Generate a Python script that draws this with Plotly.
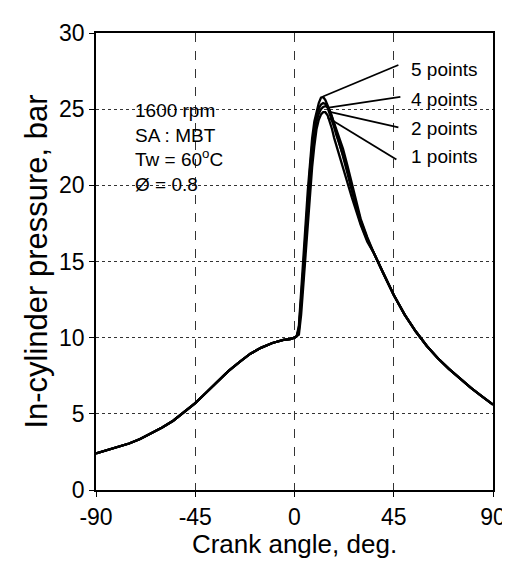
import plotly.graph_objects as go

# ---- data ----
comp_deg = [-90, -85, -80, -75, -70, -65, -60, -55, -50, -45, -40, -35, -30, -25, -20, -15, -10, -5, -2, 0]
comp_p = [2.4, 2.6, 2.8, 3.05, 3.35, 3.7, 4.1, 4.55, 5.1, 5.7, 6.4, 7.1, 7.8, 8.4, 8.95, 9.35, 9.65, 9.85, 9.9, 10.0]

comb_deg = [1, 2, 3, 4, 5, 6, 7, 8, 9, 10, 11, 12, 13, 14, 15, 16, 17, 18, 19, 20, 22, 24, 26, 28, 30, 33]
p_5pts = [10.1, 10.8, 12.8, 15.0, 17.4, 19.6, 21.5, 23.1, 24.2, 24.9, 25.4, 25.75, 25.8, 25.6, 25.3, 24.9, 24.5, 24.1, 23.6, 23.2, 22.4, 21.3, 20.1, 18.9, 17.8, 16.6]
p_4pts = [10.1, 10.6, 12.4, 14.5, 16.8, 19.0, 21.0, 22.6, 23.8, 24.6, 25.05, 25.3, 25.4, 25.35, 25.1, 24.7, 24.3, 23.8, 23.3, 22.9, 22.0, 21.0, 19.8, 18.7, 17.7, 16.5]
p_2pts = [10.1, 10.5, 12.0, 14.0, 16.2, 18.4, 20.5, 22.1, 23.3, 24.2, 24.7, 25.0, 25.15, 25.2, 25.15, 24.9, 24.5, 24.0, 23.5, 23.0, 21.9, 20.8, 19.6, 18.5, 17.5, 16.4]
p_1pts = [10.1, 10.2, 11.5, 13.5, 15.5, 17.5, 19.5, 21.2, 22.6, 23.7, 24.3, 24.65, 24.8, 24.8, 24.6, 24.2, 23.7, 23.1, 22.6, 22.1, 21.1, 20.1, 19.2, 18.3, 17.4, 16.3]

exp_deg = [36, 40, 45, 50, 55, 60, 65, 70, 75, 80, 85, 90]
exp_p = [15.55, 14.3, 12.8, 11.5, 10.4, 9.45, 8.65, 7.95, 7.3, 6.7, 6.15, 5.6]

series_names = ["5 points", "4 points", "2 points", "1 points"]
series_comb = [p_5pts, p_4pts, p_2pts, p_1pts]

x_ticks = [-90, -45, 0, 45, 90]
y_ticks = [0, 5, 10, 15, 20, 25, 30]

condition_text = "1600 rpm<br>SA : MBT<br>Tw = 60<sup>o</sup>C<br>Ø = 0.8"

# label anchor positions (data coords) and leader-line targets on curves
label_pos = [(52, 27.6), (52, 25.66), (52, 23.74), (52, 21.9)]
leader_tail = [(47.1, 27.9), (48.0, 25.8), (47.1, 23.8), (46.2, 21.7)]
leader_head = [(13.2, 25.85), (15.5, 25.1), (16.5, 24.8), (15.0, 24.45)]

FONT = "Arial, Liberation Sans, sans-serif"

fig = go.Figure()
for name, comb in zip(series_names, series_comb):
    fig.add_trace(go.Scatter(
        x=comp_deg + comb_deg + exp_deg,
        y=comp_p + comb + exp_p,
        mode="lines",
        name=name,
        line=dict(color="black", width=2.3),
        showlegend=False,
    ))

annotations = [dict(
    x=-73, y=22.5, xref="x", yref="y", text=condition_text,
    showarrow=False, xanchor="left", yanchor="middle", align="left",
    font=dict(family=FONT, size=19, color="black"),
)]
shapes = []
for name, (lx, ly), (tx, ty), (hx, hy) in zip(series_names, label_pos, leader_tail, leader_head):
    annotations.append(dict(
        x=lx, y=ly, xref="x", yref="y", text=name, showarrow=False,
        xanchor="left", yanchor="middle",
        font=dict(family=FONT, size=19, color="black"),
    ))
    shapes.append(dict(type="line", xref="x", yref="y", x0=tx, y0=ty, x1=hx, y1=hy,
                       line=dict(color="black", width=1.8)))

fig.update_layout(
    width=510, height=562,
    margin=dict(l=88, r=17, t=14, b=80),
    paper_bgcolor="white", plot_bgcolor="white",
    font=dict(family=FONT, color="black"),
    annotations=annotations,
    shapes=shapes,
)
fig.update_xaxes(
    range=[-90, 90], tickvals=x_ticks, ticktext=[str(v) for v in x_ticks],
    showline=True, linecolor="black", linewidth=1.8, mirror=True,
    ticks="outside", ticklen=5, tickcolor="black",
    showgrid=True, gridcolor="#333333", gridwidth=1, griddash="dash",
    zeroline=False,
    tickfont=dict(family=FONT, size=23, color="black"),
    title=dict(text="Crank angle, deg.", font=dict(family=FONT, size=26, color="black"), standoff=2),
)
fig.update_yaxes(
    range=[0, 30], tickvals=y_ticks, ticktext=[str(v) for v in y_ticks],
    showline=True, linecolor="black", linewidth=1.8, mirror=True,
    ticks="outside", ticklen=5, tickcolor="black",
    showgrid=True, gridcolor="#333333", gridwidth=1, griddash="dot",
    zeroline=False,
    tickfont=dict(family=FONT, size=23, color="black"),
    title=dict(text="In-cylinder pressure, bar", font=dict(family=FONT, size=31, color="black"), standoff=2),
)

fig.write_html("out.html")
